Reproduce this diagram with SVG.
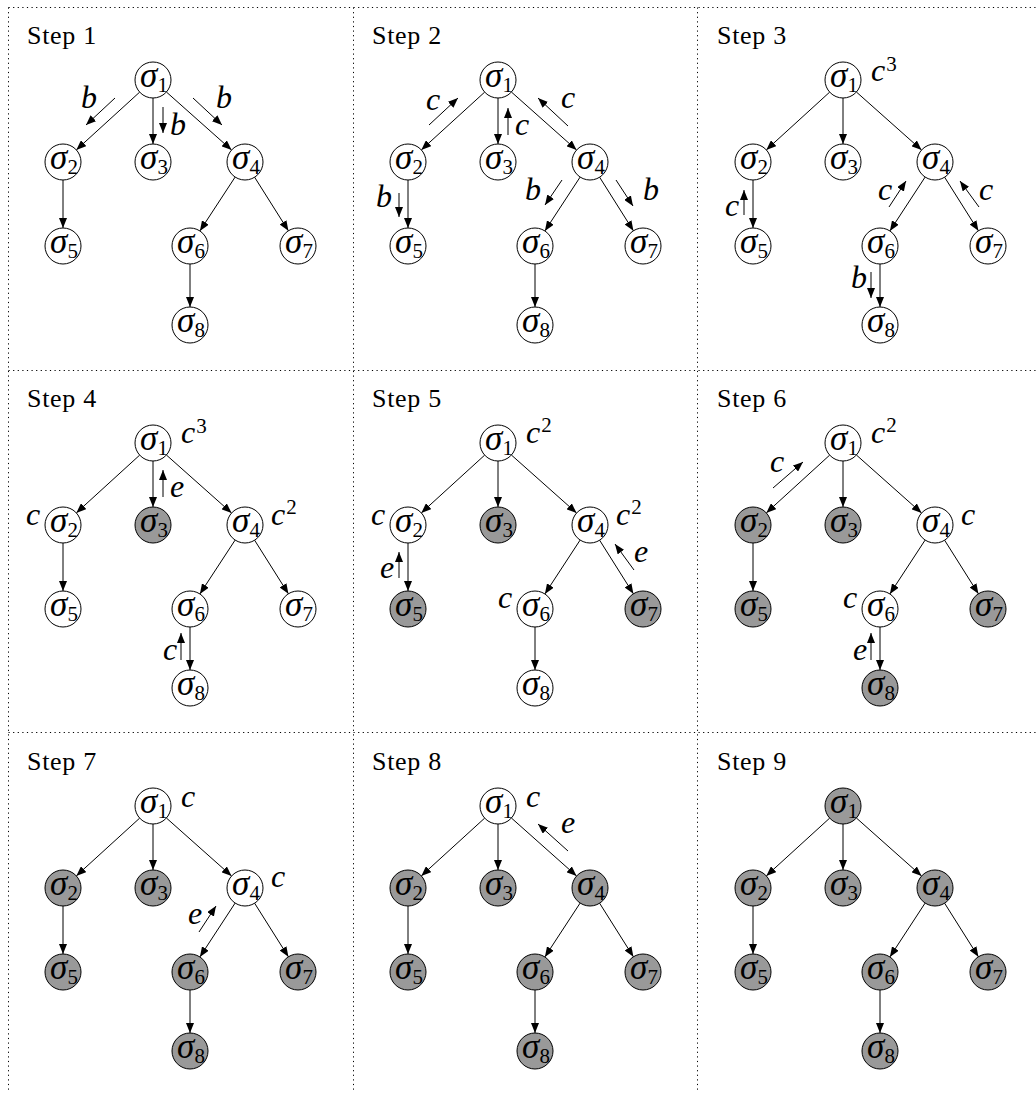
<svg xmlns="http://www.w3.org/2000/svg" width="1036" height="1093" viewBox="0 0 1036 1093">
<defs>
<marker id="ah" markerWidth="10" markerHeight="8" refX="10" refY="4" orient="auto" markerUnits="userSpaceOnUse"><path d="M0,0 L10,4 L0,8 z" fill="#000"/></marker>
<style>
.grid{stroke:#000;stroke-width:1;stroke-dasharray:1.2 3.4;fill:none}
.e{stroke:#000;stroke-width:1;fill:none;marker-end:url(#ah)}
.node circle{fill:#fff;stroke:#000;stroke-width:1}
.node.g circle{fill:#999}
.sig{font-family:"Liberation Serif",serif;font-size:35px;text-anchor:middle}
.sig .s{font-style:italic}
.sig .d{font-size:21px}
.lbl{font-family:"Liberation Serif",serif;font-style:italic;font-size:32px}
.sup{font-family:"Liberation Serif",serif;font-style:normal;font-size:21px}
.step{font-family:"Liberation Serif",serif;font-size:26px;letter-spacing:0.7px}
</style>
</defs>
<rect width="1036" height="1093" fill="#fff"/>
<g id="grid">
<line class="grid" x1="8.5" y1="7.5" x2="1036" y2="7.5"/>
<line class="grid" x1="8.5" y1="370.5" x2="1036" y2="370.5"/>
<line class="grid" x1="8.5" y1="732.5" x2="1036" y2="732.5"/>
<line class="grid" x1="8.5" y1="7.5" x2="8.5" y2="1093"/>
<line class="grid" x1="353.5" y1="7.5" x2="353.5" y2="1093"/>
<line class="grid" x1="697.5" y1="7.5" x2="697.5" y2="1093"/>
</g>

<!-- Step 1 -->
<g id="step1" transform="translate(0,0)">
<text class="step" x="27" y="44">Step 1</text>
<g id="step1-connectors">
<path class="e" d="M139.7,92.1 L76.3,149.9"/><path class="e" d="M153,98 L153,144"/><path class="e" d="M166.4,92 L231.6,150"/><path class="e" d="M63,180 L63,228"/><path class="e" d="M235.1,177.1 L199.9,230.9"/><path class="e" d="M254.6,177.2 L288.4,230.8"/><path class="e" d="M190,264 L190,307"/>
<path class="e" d="M115,98 L86,125"/><text class="lbl" x="81" y="108">b</text>
<path class="e" d="M163,107 L163,133"/><text class="lbl" x="170" y="135">b</text>
<path class="e" d="M193,98 L222,125"/><text class="lbl" x="216" y="108">b</text>
</g>
<g id="step1-n1" class="node"><circle cx="153" cy="80" r="18"/><text class="sig" x="154" y="87"><tspan class="s">σ</tspan><tspan class="d" dy="5">1</tspan></text></g>
<g id="step1-n2" class="node"><circle cx="63" cy="162" r="18"/><text class="sig" x="64" y="169"><tspan class="s">σ</tspan><tspan class="d" dy="5">2</tspan></text></g>
<g id="step1-n3" class="node"><circle cx="153" cy="162" r="18"/><text class="sig" x="154" y="169"><tspan class="s">σ</tspan><tspan class="d" dy="5">3</tspan></text></g>
<g id="step1-n4" class="node"><circle cx="245" cy="162" r="18"/><text class="sig" x="246" y="169"><tspan class="s">σ</tspan><tspan class="d" dy="5">4</tspan></text></g>
<g id="step1-n5" class="node"><circle cx="63" cy="246" r="18"/><text class="sig" x="64" y="253"><tspan class="s">σ</tspan><tspan class="d" dy="5">5</tspan></text></g>
<g id="step1-n6" class="node"><circle cx="190" cy="246" r="18"/><text class="sig" x="191" y="253"><tspan class="s">σ</tspan><tspan class="d" dy="5">6</tspan></text></g>
<g id="step1-n7" class="node"><circle cx="298" cy="246" r="18"/><text class="sig" x="299" y="253"><tspan class="s">σ</tspan><tspan class="d" dy="5">7</tspan></text></g>
<g id="step1-n8" class="node"><circle cx="190" cy="325" r="18"/><text class="sig" x="191" y="332"><tspan class="s">σ</tspan><tspan class="d" dy="5">8</tspan></text></g>
</g>

<!-- Step 2 -->
<g id="step2" transform="translate(345,0)">
<text class="step" x="27" y="44">Step 2</text>
<g id="step2-connectors">
<path class="e" d="M139.7,92.1 L76.3,149.9"/><path class="e" d="M153,98 L153,144"/><path class="e" d="M166.4,92 L231.6,150"/><path class="e" d="M63,180 L63,228"/><path class="e" d="M235.1,177.1 L199.9,230.9"/><path class="e" d="M254.6,177.2 L288.4,230.8"/><path class="e" d="M190,264 L190,307"/>
<path class="e" d="M84,125 L113,98"/><text class="lbl" x="81" y="110">c</text>
<path class="e" d="M163,135 L163,108"/><text class="lbl" x="170" y="135">c</text>
<path class="e" d="M223,126 L193,98"/><text class="lbl" x="216" y="108">c</text>
<path class="e" d="M54,193 L54,217"/><text class="lbl" x="31" y="207">b</text>
<path class="e" d="M217,180 L200,205"/><text class="lbl" x="180" y="200">b</text>
<path class="e" d="M271,180 L288,206"/><text class="lbl" x="298" y="200">b</text>
</g>
<g id="step2-n1" class="node"><circle cx="153" cy="80" r="18"/><text class="sig" x="154" y="87"><tspan class="s">σ</tspan><tspan class="d" dy="5">1</tspan></text></g>
<g id="step2-n2" class="node"><circle cx="63" cy="162" r="18"/><text class="sig" x="64" y="169"><tspan class="s">σ</tspan><tspan class="d" dy="5">2</tspan></text></g>
<g id="step2-n3" class="node"><circle cx="153" cy="162" r="18"/><text class="sig" x="154" y="169"><tspan class="s">σ</tspan><tspan class="d" dy="5">3</tspan></text></g>
<g id="step2-n4" class="node"><circle cx="245" cy="162" r="18"/><text class="sig" x="246" y="169"><tspan class="s">σ</tspan><tspan class="d" dy="5">4</tspan></text></g>
<g id="step2-n5" class="node"><circle cx="63" cy="246" r="18"/><text class="sig" x="64" y="253"><tspan class="s">σ</tspan><tspan class="d" dy="5">5</tspan></text></g>
<g id="step2-n6" class="node"><circle cx="190" cy="246" r="18"/><text class="sig" x="191" y="253"><tspan class="s">σ</tspan><tspan class="d" dy="5">6</tspan></text></g>
<g id="step2-n7" class="node"><circle cx="298" cy="246" r="18"/><text class="sig" x="299" y="253"><tspan class="s">σ</tspan><tspan class="d" dy="5">7</tspan></text></g>
<g id="step2-n8" class="node"><circle cx="190" cy="325" r="18"/><text class="sig" x="191" y="332"><tspan class="s">σ</tspan><tspan class="d" dy="5">8</tspan></text></g>
</g>

<!-- Step 3 -->
<g id="step3" transform="translate(690,0)">
<text class="step" x="27" y="44">Step 3</text>
<g id="step3-connectors">
<path class="e" d="M139.7,92.1 L76.3,149.9"/><path class="e" d="M153,98 L153,144"/><path class="e" d="M166.4,92 L231.6,150"/><path class="e" d="M63,180 L63,228"/><path class="e" d="M235.1,177.1 L199.9,230.9"/><path class="e" d="M254.6,177.2 L288.4,230.8"/><path class="e" d="M190,264 L190,307"/>
<path class="e" d="M54,215 L54,190"/><text class="lbl" x="35" y="216">c</text>
<path class="e" d="M199,207 L216,181"/><text class="lbl" x="188" y="200">c</text>
<path class="e" d="M289,207 L270,181"/><text class="lbl" x="289" y="200">c</text>
<path class="e" d="M181,272 L181,298"/><text class="lbl" x="161" y="288">b</text>
</g>
<g id="step3-n1" class="node"><circle cx="153" cy="80" r="18"/><text class="sig" x="154" y="87"><tspan class="s">σ</tspan><tspan class="d" dy="5">1</tspan></text></g>
<g id="step3-n2" class="node"><circle cx="63" cy="162" r="18"/><text class="sig" x="64" y="169"><tspan class="s">σ</tspan><tspan class="d" dy="5">2</tspan></text></g>
<g id="step3-n3" class="node"><circle cx="153" cy="162" r="18"/><text class="sig" x="154" y="169"><tspan class="s">σ</tspan><tspan class="d" dy="5">3</tspan></text></g>
<g id="step3-n4" class="node"><circle cx="245" cy="162" r="18"/><text class="sig" x="246" y="169"><tspan class="s">σ</tspan><tspan class="d" dy="5">4</tspan></text></g>
<g id="step3-n5" class="node"><circle cx="63" cy="246" r="18"/><text class="sig" x="64" y="253"><tspan class="s">σ</tspan><tspan class="d" dy="5">5</tspan></text></g>
<g id="step3-n6" class="node"><circle cx="190" cy="246" r="18"/><text class="sig" x="191" y="253"><tspan class="s">σ</tspan><tspan class="d" dy="5">6</tspan></text></g>
<g id="step3-n7" class="node"><circle cx="298" cy="246" r="18"/><text class="sig" x="299" y="253"><tspan class="s">σ</tspan><tspan class="d" dy="5">7</tspan></text></g>
<g id="step3-n8" class="node"><circle cx="190" cy="325" r="18"/><text class="sig" x="191" y="332"><tspan class="s">σ</tspan><tspan class="d" dy="5">8</tspan></text></g>
<text class="lbl" x="181" y="81">c<tspan class="sup" dx="1" dy="-10">3</tspan></text>
</g>

<!-- Step 4 -->
<g id="step4" transform="translate(0,363)">
<text class="step" x="27" y="44">Step 4</text>
<g id="step4-connectors">
<path class="e" d="M139.7,92.1 L76.3,149.9"/><path class="e" d="M153,98 L153,144"/><path class="e" d="M166.4,92 L231.6,150"/><path class="e" d="M63,180 L63,228"/><path class="e" d="M235.1,177.1 L199.9,230.9"/><path class="e" d="M254.6,177.2 L288.4,230.8"/><path class="e" d="M190,264 L190,307"/>
<path class="e" d="M163,134 L163,107"/><text class="lbl" x="170" y="134">e</text>
<path class="e" d="M181,297 L181,270"/><text class="lbl" x="163" y="297">c</text>
</g>
<g id="step4-n1" class="node"><circle cx="153" cy="80" r="18"/><text class="sig" x="154" y="87"><tspan class="s">σ</tspan><tspan class="d" dy="5">1</tspan></text></g>
<g id="step4-n2" class="node"><circle cx="63" cy="162" r="18"/><text class="sig" x="64" y="169"><tspan class="s">σ</tspan><tspan class="d" dy="5">2</tspan></text></g>
<g id="step4-n3" class="node g"><circle cx="153" cy="162" r="18"/><text class="sig" x="154" y="169"><tspan class="s">σ</tspan><tspan class="d" dy="5">3</tspan></text></g>
<g id="step4-n4" class="node"><circle cx="245" cy="162" r="18"/><text class="sig" x="246" y="169"><tspan class="s">σ</tspan><tspan class="d" dy="5">4</tspan></text></g>
<g id="step4-n5" class="node"><circle cx="63" cy="246" r="18"/><text class="sig" x="64" y="253"><tspan class="s">σ</tspan><tspan class="d" dy="5">5</tspan></text></g>
<g id="step4-n6" class="node"><circle cx="190" cy="246" r="18"/><text class="sig" x="191" y="253"><tspan class="s">σ</tspan><tspan class="d" dy="5">6</tspan></text></g>
<g id="step4-n7" class="node"><circle cx="298" cy="246" r="18"/><text class="sig" x="299" y="253"><tspan class="s">σ</tspan><tspan class="d" dy="5">7</tspan></text></g>
<g id="step4-n8" class="node"><circle cx="190" cy="325" r="18"/><text class="sig" x="191" y="332"><tspan class="s">σ</tspan><tspan class="d" dy="5">8</tspan></text></g>
<text class="lbl" x="181" y="80">c<tspan class="sup" dx="1" dy="-10">3</tspan></text>
<text class="lbl" x="26" y="162">c</text>
<text class="lbl" x="271" y="162">c<tspan class="sup" dx="1" dy="-11">2</tspan></text>
</g>

<!-- Step 5 -->
<g id="step5" transform="translate(345,363)">
<text class="step" x="27" y="44">Step 5</text>
<g id="step5-connectors">
<path class="e" d="M139.7,92.1 L76.3,149.9"/><path class="e" d="M153,98 L153,144"/><path class="e" d="M166.4,92 L231.6,150"/><path class="e" d="M63,180 L63,228"/><path class="e" d="M235.1,177.1 L199.9,230.9"/><path class="e" d="M254.6,177.2 L288.4,230.8"/><path class="e" d="M190,264 L190,307"/>
<path class="e" d="M54,215 L54,189"/><text class="lbl" x="35" y="215">e</text>
<path class="e" d="M289,207 L270,181"/><text class="lbl" x="289" y="199">e</text>
</g>
<g id="step5-n1" class="node"><circle cx="153" cy="80" r="18"/><text class="sig" x="154" y="87"><tspan class="s">σ</tspan><tspan class="d" dy="5">1</tspan></text></g>
<g id="step5-n2" class="node"><circle cx="63" cy="162" r="18"/><text class="sig" x="64" y="169"><tspan class="s">σ</tspan><tspan class="d" dy="5">2</tspan></text></g>
<g id="step5-n3" class="node g"><circle cx="153" cy="162" r="18"/><text class="sig" x="154" y="169"><tspan class="s">σ</tspan><tspan class="d" dy="5">3</tspan></text></g>
<g id="step5-n4" class="node"><circle cx="245" cy="162" r="18"/><text class="sig" x="246" y="169"><tspan class="s">σ</tspan><tspan class="d" dy="5">4</tspan></text></g>
<g id="step5-n5" class="node g"><circle cx="63" cy="246" r="18"/><text class="sig" x="64" y="253"><tspan class="s">σ</tspan><tspan class="d" dy="5">5</tspan></text></g>
<g id="step5-n6" class="node"><circle cx="190" cy="246" r="18"/><text class="sig" x="191" y="253"><tspan class="s">σ</tspan><tspan class="d" dy="5">6</tspan></text></g>
<g id="step5-n7" class="node g"><circle cx="298" cy="246" r="18"/><text class="sig" x="299" y="253"><tspan class="s">σ</tspan><tspan class="d" dy="5">7</tspan></text></g>
<g id="step5-n8" class="node"><circle cx="190" cy="325" r="18"/><text class="sig" x="191" y="332"><tspan class="s">σ</tspan><tspan class="d" dy="5">8</tspan></text></g>
<text class="lbl" x="181" y="80">c<tspan class="sup" dx="1" dy="-11">2</tspan></text>
<text class="lbl" x="26" y="162">c</text>
<text class="lbl" x="271" y="162">c<tspan class="sup" dx="1" dy="-11">2</tspan></text>
<text class="lbl" x="153" y="245">c</text>
</g>

<!-- Step 6 -->
<g id="step6" transform="translate(690,363)">
<text class="step" x="27" y="44">Step 6</text>
<g id="step6-connectors">
<path class="e" d="M139.7,92.1 L76.3,149.9"/><path class="e" d="M153,98 L153,144"/><path class="e" d="M166.4,92 L231.6,150"/><path class="e" d="M63,180 L63,228"/><path class="e" d="M235.1,177.1 L199.9,230.9"/><path class="e" d="M254.6,177.2 L288.4,230.8"/><path class="e" d="M190,264 L190,307"/>
<path class="e" d="M83,125 L113,99"/><text class="lbl" x="80" y="109">c</text>
<path class="e" d="M181,297 L181,270"/><text class="lbl" x="163" y="297">e</text>
</g>
<g id="step6-n1" class="node"><circle cx="153" cy="80" r="18"/><text class="sig" x="154" y="87"><tspan class="s">σ</tspan><tspan class="d" dy="5">1</tspan></text></g>
<g id="step6-n2" class="node g"><circle cx="63" cy="162" r="18"/><text class="sig" x="64" y="169"><tspan class="s">σ</tspan><tspan class="d" dy="5">2</tspan></text></g>
<g id="step6-n3" class="node g"><circle cx="153" cy="162" r="18"/><text class="sig" x="154" y="169"><tspan class="s">σ</tspan><tspan class="d" dy="5">3</tspan></text></g>
<g id="step6-n4" class="node"><circle cx="245" cy="162" r="18"/><text class="sig" x="246" y="169"><tspan class="s">σ</tspan><tspan class="d" dy="5">4</tspan></text></g>
<g id="step6-n5" class="node g"><circle cx="63" cy="246" r="18"/><text class="sig" x="64" y="253"><tspan class="s">σ</tspan><tspan class="d" dy="5">5</tspan></text></g>
<g id="step6-n6" class="node"><circle cx="190" cy="246" r="18"/><text class="sig" x="191" y="253"><tspan class="s">σ</tspan><tspan class="d" dy="5">6</tspan></text></g>
<g id="step6-n7" class="node g"><circle cx="298" cy="246" r="18"/><text class="sig" x="299" y="253"><tspan class="s">σ</tspan><tspan class="d" dy="5">7</tspan></text></g>
<g id="step6-n8" class="node g"><circle cx="190" cy="325" r="18"/><text class="sig" x="191" y="332"><tspan class="s">σ</tspan><tspan class="d" dy="5">8</tspan></text></g>
<text class="lbl" x="181" y="80">c<tspan class="sup" dx="1" dy="-11">2</tspan></text>
<text class="lbl" x="271" y="162">c</text>
<text class="lbl" x="153" y="245">c</text>
</g>

<!-- Step 7 -->
<g id="step7" transform="translate(0,726)">
<text class="step" x="27" y="44">Step 7</text>
<g id="step7-connectors">
<path class="e" d="M139.7,92.1 L76.3,149.9"/><path class="e" d="M153,98 L153,144"/><path class="e" d="M166.4,92 L231.6,150"/><path class="e" d="M63,180 L63,228"/><path class="e" d="M235.1,177.1 L199.9,230.9"/><path class="e" d="M254.6,177.2 L288.4,230.8"/><path class="e" d="M190,264 L190,307"/>
<path class="e" d="M199,206 L216,180"/><text class="lbl" x="188" y="198">e</text>
</g>
<g id="step7-n1" class="node"><circle cx="153" cy="80" r="18"/><text class="sig" x="154" y="87"><tspan class="s">σ</tspan><tspan class="d" dy="5">1</tspan></text></g>
<g id="step7-n2" class="node g"><circle cx="63" cy="162" r="18"/><text class="sig" x="64" y="169"><tspan class="s">σ</tspan><tspan class="d" dy="5">2</tspan></text></g>
<g id="step7-n3" class="node g"><circle cx="153" cy="162" r="18"/><text class="sig" x="154" y="169"><tspan class="s">σ</tspan><tspan class="d" dy="5">3</tspan></text></g>
<g id="step7-n4" class="node"><circle cx="245" cy="162" r="18"/><text class="sig" x="246" y="169"><tspan class="s">σ</tspan><tspan class="d" dy="5">4</tspan></text></g>
<g id="step7-n5" class="node g"><circle cx="63" cy="246" r="18"/><text class="sig" x="64" y="253"><tspan class="s">σ</tspan><tspan class="d" dy="5">5</tspan></text></g>
<g id="step7-n6" class="node g"><circle cx="190" cy="246" r="18"/><text class="sig" x="191" y="253"><tspan class="s">σ</tspan><tspan class="d" dy="5">6</tspan></text></g>
<g id="step7-n7" class="node g"><circle cx="298" cy="246" r="18"/><text class="sig" x="299" y="253"><tspan class="s">σ</tspan><tspan class="d" dy="5">7</tspan></text></g>
<g id="step7-n8" class="node g"><circle cx="190" cy="325" r="18"/><text class="sig" x="191" y="332"><tspan class="s">σ</tspan><tspan class="d" dy="5">8</tspan></text></g>
<text class="lbl" x="181" y="81">c</text>
<text class="lbl" x="271" y="161">c</text>
</g>

<!-- Step 8 -->
<g id="step8" transform="translate(345,726)">
<text class="step" x="27" y="44">Step 8</text>
<g id="step8-connectors">
<path class="e" d="M139.7,92.1 L76.3,149.9"/><path class="e" d="M153,98 L153,144"/><path class="e" d="M166.4,92 L231.6,150"/><path class="e" d="M63,180 L63,228"/><path class="e" d="M235.1,177.1 L199.9,230.9"/><path class="e" d="M254.6,177.2 L288.4,230.8"/><path class="e" d="M190,264 L190,307"/>
<path class="e" d="M223,125 L193,98"/><text class="lbl" x="216" y="107">e</text>
</g>
<g id="step8-n1" class="node"><circle cx="153" cy="80" r="18"/><text class="sig" x="154" y="87"><tspan class="s">σ</tspan><tspan class="d" dy="5">1</tspan></text></g>
<g id="step8-n2" class="node g"><circle cx="63" cy="162" r="18"/><text class="sig" x="64" y="169"><tspan class="s">σ</tspan><tspan class="d" dy="5">2</tspan></text></g>
<g id="step8-n3" class="node g"><circle cx="153" cy="162" r="18"/><text class="sig" x="154" y="169"><tspan class="s">σ</tspan><tspan class="d" dy="5">3</tspan></text></g>
<g id="step8-n4" class="node g"><circle cx="245" cy="162" r="18"/><text class="sig" x="246" y="169"><tspan class="s">σ</tspan><tspan class="d" dy="5">4</tspan></text></g>
<g id="step8-n5" class="node g"><circle cx="63" cy="246" r="18"/><text class="sig" x="64" y="253"><tspan class="s">σ</tspan><tspan class="d" dy="5">5</tspan></text></g>
<g id="step8-n6" class="node g"><circle cx="190" cy="246" r="18"/><text class="sig" x="191" y="253"><tspan class="s">σ</tspan><tspan class="d" dy="5">6</tspan></text></g>
<g id="step8-n7" class="node g"><circle cx="298" cy="246" r="18"/><text class="sig" x="299" y="253"><tspan class="s">σ</tspan><tspan class="d" dy="5">7</tspan></text></g>
<g id="step8-n8" class="node g"><circle cx="190" cy="325" r="18"/><text class="sig" x="191" y="332"><tspan class="s">σ</tspan><tspan class="d" dy="5">8</tspan></text></g>
<text class="lbl" x="181" y="81">c</text>
</g>

<!-- Step 9 -->
<g id="step9" transform="translate(690,726)">
<text class="step" x="27" y="44">Step 9</text>
<g id="step9-connectors">
<path class="e" d="M139.7,92.1 L76.3,149.9"/><path class="e" d="M153,98 L153,144"/><path class="e" d="M166.4,92 L231.6,150"/><path class="e" d="M63,180 L63,228"/><path class="e" d="M235.1,177.1 L199.9,230.9"/><path class="e" d="M254.6,177.2 L288.4,230.8"/><path class="e" d="M190,264 L190,307"/>
</g>
<g id="step9-n1" class="node g"><circle cx="153" cy="80" r="18"/><text class="sig" x="154" y="87"><tspan class="s">σ</tspan><tspan class="d" dy="5">1</tspan></text></g>
<g id="step9-n2" class="node g"><circle cx="63" cy="162" r="18"/><text class="sig" x="64" y="169"><tspan class="s">σ</tspan><tspan class="d" dy="5">2</tspan></text></g>
<g id="step9-n3" class="node g"><circle cx="153" cy="162" r="18"/><text class="sig" x="154" y="169"><tspan class="s">σ</tspan><tspan class="d" dy="5">3</tspan></text></g>
<g id="step9-n4" class="node g"><circle cx="245" cy="162" r="18"/><text class="sig" x="246" y="169"><tspan class="s">σ</tspan><tspan class="d" dy="5">4</tspan></text></g>
<g id="step9-n5" class="node g"><circle cx="63" cy="246" r="18"/><text class="sig" x="64" y="253"><tspan class="s">σ</tspan><tspan class="d" dy="5">5</tspan></text></g>
<g id="step9-n6" class="node g"><circle cx="190" cy="246" r="18"/><text class="sig" x="191" y="253"><tspan class="s">σ</tspan><tspan class="d" dy="5">6</tspan></text></g>
<g id="step9-n7" class="node g"><circle cx="298" cy="246" r="18"/><text class="sig" x="299" y="253"><tspan class="s">σ</tspan><tspan class="d" dy="5">7</tspan></text></g>
<g id="step9-n8" class="node g"><circle cx="190" cy="325" r="18"/><text class="sig" x="191" y="332"><tspan class="s">σ</tspan><tspan class="d" dy="5">8</tspan></text></g>
</g>
</svg>
